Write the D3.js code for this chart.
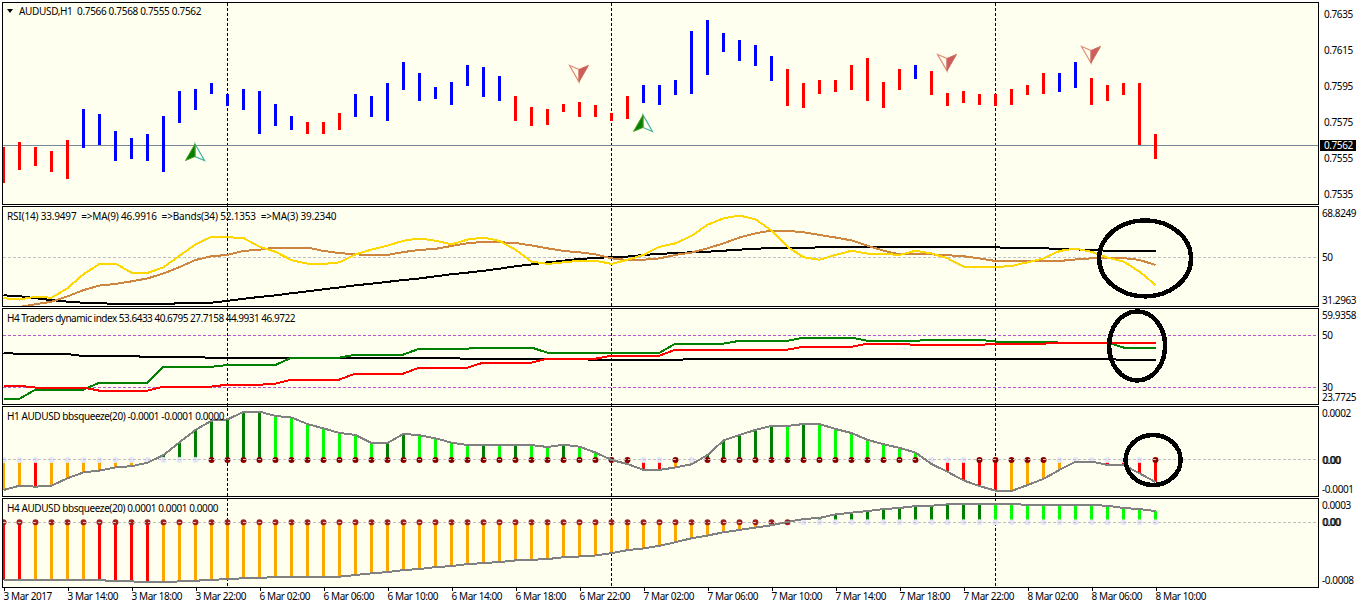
<!DOCTYPE html>
<html><head><meta charset="utf-8">
<script src="https://cdnjs.cloudflare.com/ajax/libs/d3/7.8.5/d3.min.js"></script>
<style>
html,body{margin:0;padding:0;background:#fff;overflow:hidden}
svg{display:block}
text{font-family:"Noto Sans",Arial,sans-serif;font-size:10px;letter-spacing:-0.42px;fill:#000}
</style></head><body>
<script>
const timeLabels=["3 Mar 2017","3 Mar 14:00","3 Mar 18:00","3 Mar 22:00","6 Mar 02:00","6 Mar 06:00","6 Mar 10:00","6 Mar 14:00","6 Mar 18:00","6 Mar 22:00","7 Mar 02:00","7 Mar 06:00","7 Mar 10:00","7 Mar 14:00","7 Mar 18:00","7 Mar 22:00","8 Mar 02:00","8 Mar 06:00","8 Mar 10:00"];
const separators=[14,38,62];

const barHigh=[0.75611,0.75638,0.75611,0.75588,0.75649,0.75821,0.75793,0.75699,0.75660,0.75683,0.75782,0.75921,0.75932,0.75965,0.75904,0.75932,0.75921,0.75849,0.75782,0.75749,0.75749,0.75799,0.75904,0.75893,0.75965,0.76082,0.76021,0.75943,
0.75971,0.76065,0.76054,0.76004,0.75893,0.75832,0.75821,0.75849,0.75860,0.75843,0.75799,0.75893,0.75954,0.75954,0.75982,0.76253,0.76314,0.76242,0.76203,0.76176,0.76115,0.76043,0.75965,0.75982,0.75982,0.76065,0.76104,0.75971,0.76043,
0.76065,0.76032,0.75910,0.75921,0.75904,0.75904,0.75932,0.75954,0.76021,0.76021,0.76082,0.75993,0.75954,0.75965,0.75965,0.75683];
const barLow=[0.75411,0.75483,0.75505,0.75472,0.75433,0.75605,0.75622,0.75533,0.75544,0.75533,0.75472,0.75744,0.75816,0.75904,0.75838,0.75816,0.75683,0.75727,0.75705,0.75683,0.75683,0.75705,0.75777,0.75777,0.75755,0.75926,0.75865,0.75877,
0.75843,0.75949,0.75888,0.75865,0.75755,0.75727,0.75733,0.75805,0.75777,0.75777,0.75755,0.75766,0.75854,0.75843,0.75899,0.75904,0.76010,0.76137,0.76087,0.76059,0.75976,0.75838,0.75827,0.75904,0.75915,0.75926,0.75865,0.75827,0.75926,
0.75987,0.75899,0.75838,0.75854,0.75843,0.75838,0.75843,0.75899,0.75904,0.75915,0.75937,0.75843,0.75865,0.75899,0.75622,0.75544];
const barDir=["R","R","R","R","R","B","B","B","B","B","B","B","B","B","B","B","B","B","B","R","R","R","B","B","B","B","B","B","B","B","B","B","R","R","R","R","R","R","R","R","B","B","B","B","B","B","B","B","B","R","R","R","R","R","R","R","R","B","R","R","R","R","R","R","R","R","B","B","R","R","R","R","R"];
const lastPrice=0.7562;
const priceTicks=[0.7635,0.7615,0.7595,0.7575,0.7555,0.7535];
const priceLabels=["0.7635","0.7615","0.7595","0.7575","0.7555","0.7535"];
const buyBars=[12,40], buyPrices=[0.75627,0.75788];
const sellBars=[36,59,68], sellPrices=[0.75971,0.76032,0.76076];

const rsiYellow=[34.5,34.0,35.1,34.7,38.3,43.6,47.5,47.6,44.2,44.1,46.2,50.6,54.9,57.8,57.6,57.3,54.0,52.1,48.9,47.6,47.5,48.1,51.1,52.9,54.4,56.3,57.1,56.3,
54.9,56.7,57.5,56.2,52.9,48.4,47.5,48.1,48.7,48.7,47.5,49.1,50.9,54.0,55.3,58.1,62.3,64.8,65.8,64.4,60.1,54.0,50.0,49.1,50.9,52.5,51.4,51.3,50.9,
52.5,51.5,49.6,46.5,46.3,46.3,46.7,48.1,49.6,52.4,53.3,52.1,49.9,48.4,44.6,39.5];
const rsiBrown=[30.7,31.2,32.2,33.2,35.2,37.6,39.3,39.9,40.9,42.0,43.9,46.3,49.0,50.4,50.9,52.4,52.9,53.7,53.7,53.7,52.4,51.6,51.1,50.9,50.9,52.0,52.8,53.2,
54.3,55.3,55.9,55.7,55.4,54.5,53.4,52.4,51.9,51.1,49.6,49.0,49.1,49.6,50.9,51.8,53.4,55.3,57.5,59.1,60.1,60.0,59.5,58.5,57.5,56.4,54.4,52.5,51.1,
51.4,51.1,50.8,50.4,49.6,48.6,48.6,48.5,48.6,48.6,49.2,49.6,49.7,49.7,49.0,47.1];
const rsiBlack=[35.6,35.3,34.5,33.8,33.2,32.8,32.7,32.3,32.3,32.3,32.3,32.6,32.7,32.8,33.5,34.3,35.0,35.6,36.4,37.1,37.9,38.6,39.4,40.0,40.7,41.4,42.0,42.8,
43.6,44.2,44.9,45.7,46.6,47.3,48.1,48.7,49.4,49.7,50.1,50.3,50.9,51.3,51.6,51.9,52.1,52.5,52.9,53.3,53.4,53.5,53.5,53.8,53.9,53.9,53.9,53.9,53.9,
53.9,53.9,53.9,53.9,53.8,53.8,53.5,53.4,53.4,53.2,53.0,52.8,52.5,52.5,52.5,52.5];
const rsiTicks=[68.8249,50,31.2963], rsiLabels=["68.8249","50","31.2963"];

const tdiBlack=[43.3,42.8,42.8,42.8,42.8,42.0,42.0,42.0,42.0,41.7,41.7,41.7,41.7,41.3,41.3,41.3,41.3,41.3,41.3,41.3,41.3,41.3,41.3,41.3,41.3,41.3,41.3,41.3,41.3,
40.9,40.9,40.9,40.9,40.9,40.9,40.9,40.9,40.5,40.5,40.5,40.5,40.5,40.5,40.9,40.9,40.9,40.9,40.9,40.9,40.9,40.9,40.9,40.9,40.9,40.9,40.9,40.9,40.9,40.9,40.9,40.9,40.9,40.9,40.9,40.9,40.9,40.9,40.9,40.9,40.9,40.5,40.5,40.5];
const tdiGreen=[25.6,25.6,29.1,29.1,29.1,29.1,31.8,31.8,31.8,31.8,37.9,37.9,37.9,37.9,38.6,38.6,38.6,38.6,41.4,41.4,41.4,41.4,42.6,42.6,42.6,42.6,44.9,44.9,
44.9,44.9,45.3,45.3,45.3,45.3,43.3,43.3,43.3,43.3,43.3,43.3,43.3,43.3,46.8,46.8,46.8,46.8,47.9,47.9,47.9,47.9,49.1,49.1,49.1,49.1,47.9,47.9,47.9,
47.9,48.3,48.3,48.3,48.3,47.6,47.6,47.6,47.6,47.2,47.2,47.2,47.2,45.3,45.3,45.3];
const tdiRed=[30.6,30.6,29.9,29.9,29.9,29.9,28.7,28.7,28.7,28.7,30.3,30.3,30.3,30.3,31.0,31.0,31.0,31.4,33.0,33.0,33.0,33.0,35.3,35.3,35.3,35.3,37.6,37.6,
37.6,37.6,39.5,39.5,39.5,39.5,41.0,41.0,41.0,41.0,42.2,42.2,42.2,42.2,44.5,44.5,44.5,44.5,44.5,44.5,44.5,44.5,45.6,45.6,45.6,45.6,46.8,46.8,46.8,
46.3,46.3,46.3,46.3,46.3,46.8,46.8,46.8,46.8,47.1,47.2,47.2,47.2,47.2,47.2,47.2];
const tdiLevels=[50,30];
const tdiTicks=[59.9358,50,30,23.7725], tdiLabels=["59.9358","50","30","23.7725"];

// squeeze values are in units of 0.0001
const h1Values=[-.97,-.83,-.86,-.83,-.59,-.40,-.34,-.24,-.20,-.09,.16,.57,.97,1.27,1.31,1.55,1.56,1.42,1.37,1.16,1.02,.87,.81,.55,.55,.84,.80,.70,
.56,.48,.48,.48,.48,.48,.42,.49,.43,.24,0,-.13,-.32,-.32,-.24,-.14,.16,.63,.81,.97,1.10,1.10,1.16,1.16,1.00,.87,.65,.51,.39,
.24,-.13,-.38,-.66,-.84,-.99,-1.00,-.81,-.61,-.32,-.06,-.05,-.16,-.16,-.43,-.71];
const h1Colors=["O","O","R","O","O","O","O","O","O","O","D","D","D","D","D","D","D","L","L","L","L","L","L","L","D","D","L","L",
"L","L","D","L","D","L","L","D","L","L","R","R","R","R","O","O","D","D","D","D","D","L","D","L","L","L","L","L","L",
"L","R","R","R","R","R","O","O","O","O","O","R","R","R","R","R"];
const h1Dots=["N","N","N","N","N","N","N","N","N","N","N","N","N","S","S","S","S","S","S","S","S","S","S","S","S","S","S","S",
"S","S","S","S","S","S","S","S","S","S","S","S","N","N","S","N","S","S","S","S","S","S","S","S","S","S","S","S","S",
"S","N","N","N","S","S","S","S","S","N","N","N","N","N","N","S"];
const h1Ticks=[1.71,0,-1.13], h1Labels=["0.0002","0.00","-0.0001"];

const h4Values=[-7.63,-7.63,-7.63,-7.63,-7.63,-7.63,-7.63,-7.81,-7.81,-7.94,-7.94,-7.81,-7.72,-7.63,-7.5,-7.41,-7.32,-7.28,-7.28,-7.19,-7.19,-7.19,-6.97,-6.75,-6.58,-6.32,-6.18,-5.92,
-5.79,-5.53,-5.39,-5.26,-5.04,-4.96,-4.87,-4.61,-4.52,-4.39,-4.08,-3.68,-3.46,-3.11,-2.63,-2.11,-1.75,-1.32,-1.01,-.70,-.39,.04,.44,.57,1.05,1.27,1.49,1.75,1.89,
2.15,2.19,2.37,2.46,2.46,2.46,2.46,2.28,2.28,2.28,2.28,2.28,2.19,1.89,1.75,1.49];
const h4Colors=["R","R","O","O","O","O","R","R","R","R","O","O","O","O","O","O","O","O","O","O","O","O","O","O","O","O","O","O",
"O","O","O","O","O","O","O","O","O","O","O","O","O","O","O","O","O","O","O","O","O","O","D","D","D","D","D","D","D",
"D","D","D","D","D","L","L","L","L","L","L","L","L","L","L","L"];
const h4Dots=["S","S","S","S","S","S","S","S","S","S","S","S","S","S","S","S","S","S","S","S","S","S","S","S","S","S","S","S",
"S","S","S","S","S","S","S","S","S","S","S","S","S","S","S","S","S","S","S","S","S","S","N","N","N","N","N","N","N",
"N","N","N","N","N","N","N","N","N","N","N","N","N","N","N","N"];
const h4Ticks=[3.08,0,-8.49], h4Labels=["0.0003","0.00","-0.0008"];

const W=1358,H=608,L=2,R=1318;
const palette={R:"#ff0000",B:"#0000ff",O:"#ffa500",D:"#008000",L:"#00ff00"};
const svg=d3.select("body").append("svg").attr("width",W).attr("height",H);
const x=d3.scaleLinear().domain([0,72]).range([3.5,1155.5]);

const panes=[
 {id:"main",top:2,bottom:204},
 {id:"rsi",top:206,bottom:306},
 {id:"tdi",top:308,bottom:404},
 {id:"h1",top:406,bottom:496},
 {id:"h4",top:498,bottom:587}
];
const yMain=d3.scaleLinear().domain([0.7635,0.7535]).range([13.5,194]);
const yRsi=d3.scaleLinear().domain([68.8249,31.2963]).range([207.6,306.7]);
const yTdi=d3.scaleLinear().domain([59.9358,23.7725]).range([309.5,403.5]);
const yH1=d3.scaleLinear().domain([1.71,-1.13]).range([407,495]);
const yH4=d3.scaleLinear().domain([3.08,-8.49]).range([499,586.5]);

const defs=svg.append("defs");
panes.forEach(p=>{
  defs.append("clipPath").attr("id","clip-"+p.id).append("rect")
    .attr("x",L+1).attr("y",p.top+1).attr("width",R-L-1).attr("height",p.bottom-p.top-1);
  p.g=svg.append("g");
  p.g.append("rect").attr("x",L).attr("y",p.top).attr("width",R-L).attr("height",p.bottom-p.top).attr("fill","#fffff0");
});
// period separators, behind the marks
svg.append("g").selectAll("line").data(separators).join("line")
  .attr("x1",d=>x(d)).attr("x2",d=>x(d)).attr("y1",3).attr("y2",587)
  .attr("stroke","#000").attr("stroke-dasharray","3 2").attr("shape-rendering","crispEdges");
panes.forEach(p=>{ p.layer=svg.append("g").attr("clip-path",`url(#clip-${p.id})`); });
const [pMain,pRsi,pTdi,pH1,pH4]=panes.map(p=>p.layer);

function level(g,y,value,color){
  g.append("line").attr("x1",L+1).attr("x2",R).attr("y1",Math.floor(y(value))+.5).attr("y2",Math.floor(y(value))+.5)
   .attr("stroke",color).attr("stroke-dasharray","3 2").attr("shape-rendering","crispEdges");
}
function polyline(g,y,values,color,w){
  const gen=d3.line().x((d,i)=>x(i)).y(d=>y(d));
  g.append("path").attr("d",gen(values)).attr("fill","none").attr("stroke",color)
   .attr("stroke-width",w||2).attr("shape-rendering","crispEdges").attr("stroke-linejoin","round");
}
// main pane
pMain.append("line").attr("x1",L+1).attr("x2",R).attr("y1",Math.floor(yMain(lastPrice))+.5).attr("y2",Math.floor(yMain(lastPrice))+.5)
  .attr("stroke","#778899").attr("shape-rendering","crispEdges");
pMain.selectAll("rect.bar").data(barHigh).join("rect").attr("class","bar")
  .attr("x",(d,i)=>x(i)-1.5).attr("width",3)
  .attr("y",d=>yMain(d)).attr("height",(d,i)=>yMain(barLow[i])-yMain(d))
  .attr("fill",(d,i)=>palette[barDir[i]]).attr("shape-rendering","crispEdges");

function arrow(g,cx,tipY,dir,fill,edge,edge2){
  const s=dir; // +1 up, -1 down
  const tip=[cx,tipY], bl=[cx-9.5,tipY+s*16.5], br=[cx+9.5,tipY+s*16.5], notch=[cx,tipY+s*12.5];
  const hollow=s>0?[tip,notch,br]:[tip,notch,bl];
  const solid=s>0?[tip,notch,bl]:[tip,notch,br];
  g.append("polygon").attr("points",hollow.join(" ")).attr("fill","#fffff0").attr("stroke",edge).attr("stroke-width",1.2);
  g.append("polygon").attr("points",solid.join(" ")).attr("fill",fill).attr("stroke",edge2).attr("stroke-width",1);
}
buyBars.forEach((b,i)=>arrow(pMain,x(b)-.5,yMain(buyPrices[i]),1,"#008000","#3fb0a0","#4f9a20"));
sellBars.forEach((b,i)=>arrow(pMain,x(b)-.5,yMain(sellPrices[i]),-1,"#cd5c5c","#e09078","#cd6a5c"));

// RSI
level(pRsi,yRsi,50,"#c0c0c0");
polyline(pRsi,yRsi,rsiBlack,"#000");
polyline(pRsi,yRsi,rsiBrown,"#cd853f");
polyline(pRsi,yRsi,rsiYellow,"#ffd700");
// TDI
tdiLevels.forEach(v=>level(pTdi,yTdi,v,"#ba55d3"));
polyline(pTdi,yTdi,tdiBlack,"#000");
polyline(pTdi,yTdi,tdiGreen,"#008000");
polyline(pTdi,yTdi,tdiRed,"#ff0000");

// squeeze panes
function squeeze(g,y,values,colors,dots,dark){
  g.selectAll("rect.h").data(values).join("rect").attr("class","h")
   .attr("x",(d,i)=>x(i)-1.5).attr("width",3)
   .attr("y",d=>Math.min(y(d),y(0))).attr("height",d=>Math.abs(y(d)-y(0)))
   .attr("fill",(d,i)=>palette[colors[i]]).attr("shape-rendering","crispEdges");
  g.selectAll("circle").data(dots).join("circle")
   .attr("cx",(d,i)=>x(i)).attr("cy",y(0)).attr("r",3)
   .attr("fill",d=>d==="S"?dark:"#e6e6fa");
  level(g,y,0,"#c0c0c0");
  polyline(g,y,values,"#808080");
}
squeeze(pH1,yH1,h1Values,h1Colors,h1Dots,"#8b0000");
squeeze(pH4,yH4,h4Values,h4Colors,h4Dots,"#a51c1c");

// frames
const frames=svg.append("g");
panes.forEach(p=>{
  frames.append("rect").attr("x",L+.5).attr("y",p.top+.5).attr("width",R-L).attr("height",p.bottom-p.top)
    .attr("fill","none").attr("stroke","#000").attr("shape-rendering","crispEdges");
});

// annotation ellipses, centred on a bar position and an indicator value
const ringBars=[71.35,70.85,71.85], ringValues=[49.6,45.9,0];
const ringScales=[yRsi,yTdi,yH1], ringRx=[46,28,27.5], ringRy=[38,34.5,25];
const rings=svg.append("g");
ringBars.forEach((b,i)=>{
  rings.append("ellipse").attr("cx",x(b)).attr("cy",ringScales[i](ringValues[i]))
    .attr("rx",ringRx[i]).attr("ry",ringRy[i]).attr("fill","none").attr("stroke","#000").attr("stroke-width",4.5)
    .attr("shape-rendering","crispEdges");
});

// axes
function rightAxis(scale,ticks,labels,pad,edgeShift){
  const ax=d3.axisRight(scale).tickValues(ticks).tickSize(0).tickPadding(pad).tickFormat((d,i)=>labels[i]);
  const g=svg.append("g").attr("transform",`translate(${R},0)`).call(ax);
  g.select(".domain").remove();
  g.selectAll("text").attr("fill","#000").style("font-family",null).style("font-size",null)
   .attr("y",0).attr("dy","0.36em");
  if(edgeShift){
    g.selectAll(".tick text").attr("dy",(d,i)=>{
      if(i===0) return edgeShift+"px";
      if(i===ticks.length-1) return "-2.9px";
      return "0.36em";
    });
  }
  return g;
}
rightAxis(yMain,priceTicks,priceLabels,6);
rightAxis(yRsi,rsiTicks,rsiLabels,4,9);
rightAxis(yTdi,tdiTicks,tdiLabels,4,9);
rightAxis(yH1,h1Ticks,h1Labels,4,9);
rightAxis(yH4,h4Ticks,h4Labels,4,9);
// doubled zero labels of the squeeze panes
[yH1,yH4].forEach(y=>{
  svg.append("text").attr("x",R+5).attr("y",y(0)).attr("dy","0.36em").text("0.00");
});
// last price box
const py=Math.floor(yMain(lastPrice));
svg.append("rect").attr("x",1320).attr("y",py-5).attr("width",36).attr("height",11).attr("fill","#000");
svg.append("text").attr("x",1324).attr("y",py+.5).attr("dy","0.36em").style("fill","#fff").text(d3.format(".4f")(lastPrice));

const axB=d3.axisBottom(x).tickValues(d3.range(0,73,4)).tickSize(4).tickPadding(2).tickFormat((d,i)=>timeLabels[i]);
const gb=svg.append("g").attr("transform","translate(0,587)").call(axB);
gb.select(".domain").remove();
gb.selectAll("line").attr("stroke","#000").attr("shape-rendering","crispEdges");
gb.selectAll("text").attr("text-anchor","start").attr("x",-0.5).attr("fill","#000").style("font-family",null).style("font-size",null);

// pane captions
const captionText=["AUDUSD,H1  0.7566 0.7568 0.7555 0.7562","RSI(14) 33.9497  =>MA(9) 46.9916  =>Bands(34) 52.1353  =>MA(3) 39.2340","H4 Traders dynamic index 53.6433 40.6795 27.7158 44.9931 46.9722","H1 AUDUSD bbsqueeze(20) -0.0001 -0.0001 0.0000","H4 AUDUSD bbsqueeze(20) 0.0001 0.0001 0.0000"];
const captionX=[19,7,7,7,7], captionY=[11,216,318,416,508], captionWidth=[182,329,288,217,211];
svg.append("g").selectAll("text").data(captionText).join("text")
  .attr("x",(d,i)=>captionX[i]).attr("y",(d,i)=>captionY[i]).attr("dy","0.36em")
  .attr("textLength",(d,i)=>captionWidth[i]).attr("lengthAdjust","spacing")
  .style("white-space","pre").text(d=>d);
svg.append("polygon").attr("points","7,9 13,9 10,13").attr("fill","#000");
</script>
</body></html>
